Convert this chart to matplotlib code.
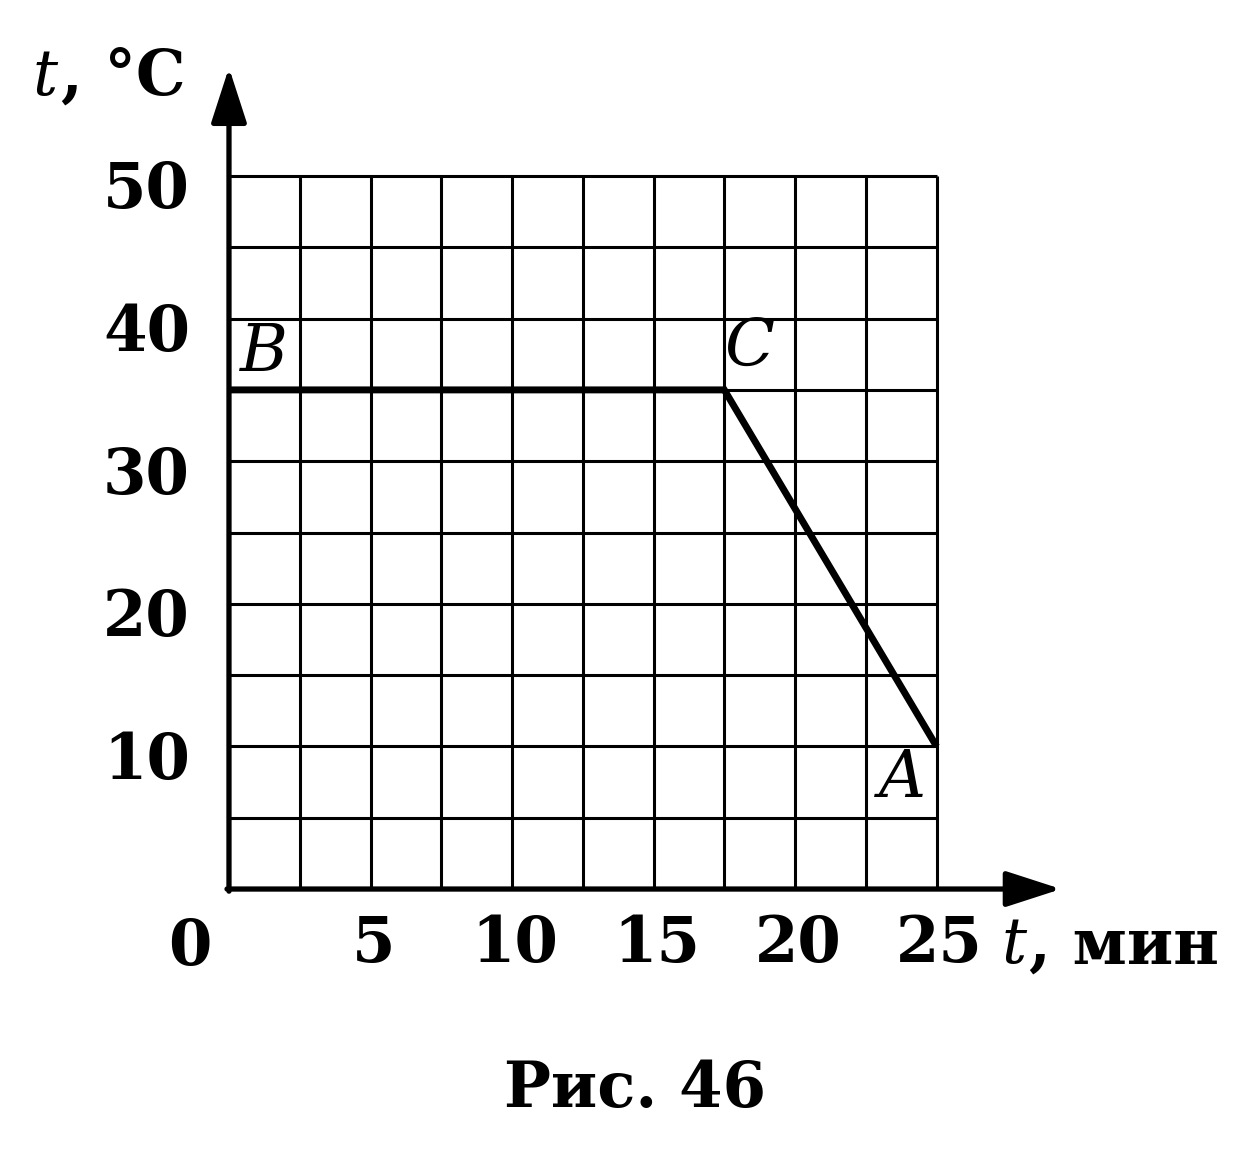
import numpy as np
import matplotlib
matplotlib.use("Agg")
import matplotlib.pyplot as plt

# ---- data ----
x_ticks = [5, 10, 15, 20, 25]
x_tick_labels = ["5", "10", "15", "20", "25"]
y_ticks = [10, 20, 30, 40, 50]
y_tick_labels = ["10", "20", "30", "40", "50"]
x_grid = [2.5, 5, 7.5, 10, 12.5, 15, 17.5, 20, 22.5, 25]
y_grid = [5, 10, 15, 20, 25, 30, 35, 40, 45, 50]
point_names = ["B", "C", "A"]
time_min = [0, 17.5, 25]
temp_c = [35, 35, 10]

SERIF = "DejaVu Serif"
FS = 45
W = "bold"

fig = plt.figure(figsize=(12.57, 11.56), dpi=100)
ax = fig.add_axes([0, 0, 1, 1])
ax.set_xlim(-8.09, 36.32)
ax.set_ylim(-18.72, 62.34)
ax.axis("off")

# grid
ax.vlines(x_grid, 0, 50, colors="black", lw=2.2)
ax.hlines(y_grid, 0, 25, colors="black", lw=2.2)

# axes with arrows
arrow_style = "-|>,head_length=0.68,head_width=0.22"
ax.annotate("", xy=(0, 57.6), xytext=(0, -0.15),
            arrowprops=dict(arrowstyle=arrow_style, lw=3.8, color="black",
                            shrinkA=0, shrinkB=0, mutation_scale=50))
ax.annotate("", xy=(29.4, 0), xytext=(-0.07, 0),
            arrowprops=dict(arrowstyle=arrow_style, lw=3.8, color="black",
                            shrinkA=0, shrinkB=0, mutation_scale=50))

# data line
ax.plot(time_min, temp_c, color="black", lw=5, solid_joinstyle="miter",
        solid_capstyle="butt")

# point labels
label_pos = {"B": (1.25, 37.6), "C": (18.4, 38.0), "A": (23.8, 7.7)}
for name in point_names:
    lx, ly = label_pos[name]
    ax.text(lx, ly, name, fontsize=FS + 2, family=SERIF, style="italic",
            ha="center", va="center")

# tick labels
for v, s in zip(y_ticks, y_tick_labels):
    ax.text(-1.38, v - 1.05, s, fontsize=FS, family=SERIF, weight=W,
            ha="right", va="center")
ax.text(-1.4, -4.1, "0", fontsize=FS, family=SERIF, weight=W,
        ha="center", va="center")
for v, s in zip(x_ticks, x_tick_labels):
    ax.text(v + 0.1, -3.9, s, fontsize=FS, family=SERIF, weight=W,
            ha="center", va="center")

# axis titles
ax.text(-6.93, 55.7, "t", fontsize=FS, family=SERIF, style="italic",
        ha="left", va="baseline")
ax.text(-5.95, 55.7, ", °C", fontsize=FS, family=SERIF, weight=W,
        ha="left", va="baseline")
ax.text(27.3, -5.2, "t", fontsize=FS, family=SERIF, style="italic",
        ha="left", va="baseline")
ax.text(28.25, -5.2, ", мин", fontsize=FS, family=SERIF, weight=W,
        ha="left", va="baseline")

# caption
ax.text(14.35, -15.3, "Рис. 46", fontsize=FS, family=SERIF, weight=W,
        ha="center", va="baseline")

fig.savefig("out.png", dpi=100, facecolor="white")
